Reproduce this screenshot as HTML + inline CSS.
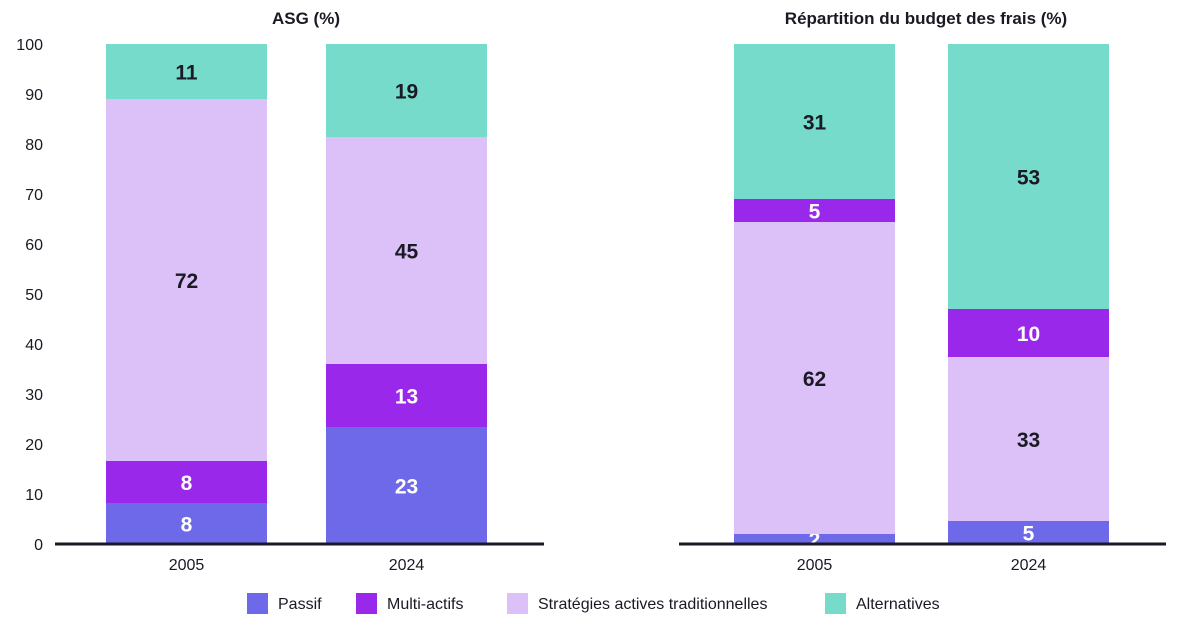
<!DOCTYPE html>
<html><head><meta charset="utf-8"><style>
body{margin:0;background:#fff;font-family:"Liberation Sans",sans-serif;}
svg text{font-family:"Liberation Sans",sans-serif;}
</style></head><body>
<svg id="chart" width="1200" height="630"></svg>
<script>
const categories = ["2005","2024"];
const seriesNames = ["Passif","Multi-actifs","Stratégies actives traditionnelles","Alternatives"];
const leftPassif = [8.2, 23.4];
const leftMulti = [8.4, 12.6];
const leftStrat = [72.4, 45.4];
const leftAlt = [11, 18.6];
const rightPassif = [2, 4.6];
const rightMulti = [4.6, 9.6];
const rightStrat = [62.4, 32.8];
const rightAlt = [31, 53];
const yTicks = [0,10,20,30,40,50,60,70,80,90,100];

const colors = ["#6e69e9","#9a28eb","#dcc1f8","#77dbcb"];
const labelColors = ["#fff","#fff","#1a1a24","#1a1a24"];
const NS = "http://www.w3.org/2000/svg";
const svg = document.getElementById("chart");
function mk(tag, attrs, text){const e=document.createElementNS(NS,tag);for(const k in attrs)e.setAttribute(k,attrs[k]);if(text!==undefined)e.textContent=text;svg.appendChild(e);return e;}
function y(v){return 544 - v*5;}

function drawPanel(name, title, titleX, barXs, axisX1, axisX2, series, order){
  const t = mk("text",{x:titleX,y:24,"text-anchor":"middle","font-size":17,"font-weight":"bold",fill:"#1a1a24"},title);
  
  
  categories.forEach((c,i)=>{
    let cum=0;
    order.forEach(s=>{
      const v=series[s][i];
      const r=mk("rect",{x:barXs[i],y:y(cum+v),width:161,height:v*5,fill:colors[s]});
      
      
      const lt=mk("text",{x:barXs[i]+80.5,y:y(cum+v/2)+8,"text-anchor":"middle","font-size":21,"font-weight":"bold",fill:labelColors[s]},Math.round(v));
      
      
      cum+=v;
    });
    const xl=mk("text",{x:barXs[i]+80.5,y:570,"text-anchor":"middle","font-size":16,fill:"#1a1a24"},c);
    
    
  });
  const ax=mk("line",{x1:axisX1,x2:axisX2,y1:544,y2:544,stroke:"#1a1a24","stroke-width":3});
  
  
}
yTicks.forEach(v=>{
  const t=mk("text",{x:43,y:y(v)+6,"text-anchor":"end","font-size":16,fill:"#1a1a24"},v);
  
  
});
drawPanel("left","ASG (%)",306,[106,326],55,544,[leftPassif,leftMulti,leftStrat,leftAlt],[0,1,2,3]);
drawPanel("right","Répartition du budget des frais (%)",926,[734,948],679,1166,[rightPassif,rightMulti,rightStrat,rightAlt],[0,2,1,3]);

const legX=[247,356,507,825];
seriesNames.forEach((n,i)=>{
  const r=mk("rect",{x:legX[i],y:593,width:21,height:21,fill:colors[i]});
  
  
  const t=mk("text",{x:legX[i]+31,y:609,"font-size":16,fill:"#1a1a24"},n);
  
  
});
</script>
</body></html>
